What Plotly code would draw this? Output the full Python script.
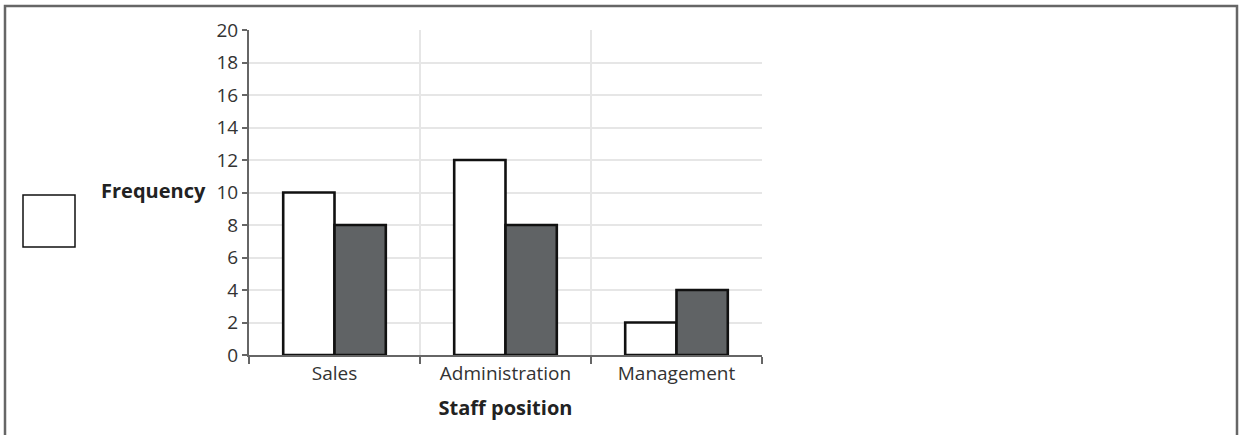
import plotly.graph_objects as go

categories = ["Sales", "Administration", "Management"]
series_a = [10, 12, 2]
series_b = [8, 8, 4]
y_ticks = list(range(0, 21, 2))

W, H = 1239, 435
L, R, T, B = 249, 762, 30, 355
pw, ph = R - L, B - T

def px(x):
    return (x - L) / pw

def py(y):
    return (B - y) / ph

fig = go.Figure()
fig.add_trace(go.Bar(x=categories, y=series_a, marker=dict(color="#ffffff", line=dict(color="#111111", width=2.6)), showlegend=False))
fig.add_trace(go.Bar(x=categories, y=series_b, marker=dict(color="#606365", line=dict(color="#111111", width=2.6)), showlegend=False))

tick_font = dict(family="Open Sans", size=19, color="#333333")
fig.update_layout(
    width=W, height=H,
    margin=dict(l=L, r=W - R, t=T, b=H - B),
    paper_bgcolor="white", plot_bgcolor="white",
    barmode="group", bargap=0.4, bargroupgap=0,
    font=tick_font,
    xaxis=dict(
        tickson="boundaries", ticks="outside", ticklen=7, tickwidth=2, tickcolor="#666666",
        showline=True, linecolor="#666666", linewidth=2,
        showgrid=True, gridcolor="#e6e6e6", gridwidth=1.5,
        tickfont=tick_font,
        title=dict(text="<b>Staff position</b>", font=dict(family="Open Sans", size=20, color="#222222"), standoff=16),
    ),
    yaxis=dict(
        range=[0, 20], tickvals=y_ticks, ticks="outside", ticklen=5, tickwidth=2, tickcolor="#666666",
        showline=True, linecolor="#666666", linewidth=2,
        showgrid=True, gridcolor="#e6e6e6", gridwidth=1.5, zeroline=False,
        tickfont=tick_font,
    ),
    shapes=[
        dict(type="rect", xref="paper", yref="paper", x0=px(5), x1=px(1237), y0=py(445), y1=py(6),
             line=dict(color="#666666", width=2.5), fillcolor="rgba(0,0,0,0)", layer="below"),
        dict(type="rect", xref="paper", yref="paper", x0=px(23), x1=px(75), y0=py(247), y1=py(195),
             line=dict(color="#111111", width=1.5), fillcolor="white"),
    ],
    annotations=[
        dict(text="<b>Frequency</b>", xref="paper", yref="paper", x=px(208), y=py(190),
             xanchor="right", yanchor="middle", showarrow=False,
             font=dict(family="Open Sans", size=20, color="#222222")),
    ],
)

fig.write_html("out.html", config={"displayModeBar": False},
               post_script="document.body.style.margin='0';document.body.style.overflow='hidden';")
